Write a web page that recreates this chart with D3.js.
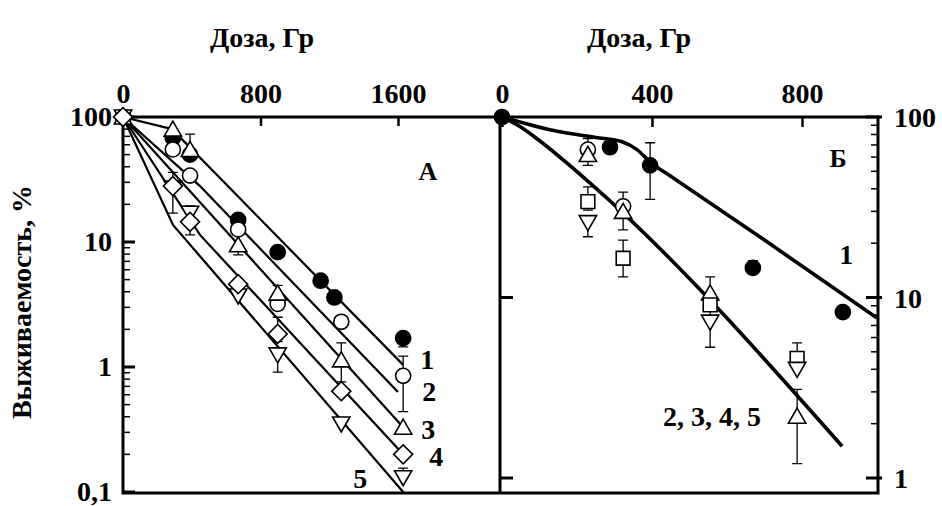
<!DOCTYPE html>
<html>
<head>
<meta charset="utf-8">
<script src="https://cdn.jsdelivr.net/npm/d3@7"></script>
<style>
  body { margin: 0; background: #fff; }
  text { font-family: "Liberation Serif", "DejaVu Serif", serif; font-weight: bold; fill: #000; }
</style>
</head>
<body>
<svg id="chart" width="942" height="506"></svg>
<script>
// ---- panel A data (dose, survival %) ----
const a1 = [[0, 100], [290, 68], [390, 50], [670, 15], [900, 8.3], [1150, 4.9], [1230, 3.6], [1630, 1.7]];
const a2 = [[0, 100], [290, 55], [390, 34], [670, 12.6], [900, 3.2], [1270, 2.3], [1630, 0.85]];
const a3 = [[0, 100], [290, 80], [390, 55], [670, 9.5], [900, 3.9], [1270, 1.14], [1630, 0.33]];
const a4 = [[0, 100], [290, 28], [390, 14.5], [670, 4.6], [900, 1.84], [1270, 0.64], [1630, 0.2]];
const a5 = [[0, 100], [290, 27], [390, 17], [670, 3.7], [900, 1.25], [1270, 0.35], [1630, 0.13]];
// fitted lines
const lineA1 = [[0, 100], [285, 80], [1630, 1.04]];
const lineA2 = [[0, 100], [448, 28], [1600, 0.63]];
const lineA3 = [[0, 100], [1630, 0.33]];
const lineA4 = [[0, 100], [448, 11.4], [1630, 0.2]];
const lineA5 = [[0, 100], [291, 13.7], [1630, 0.1]];
// error bars: dose, low, high
const errA = [[390, 50, 73], [290, 17, 36], [390, 11.4, 19.4], [670, 7.9, 9.5],
  [900, 2.86, 4.5], [900, 1.6, 2.5], [900, 0.91, 1.25], [1270, 0.76, 1.56],
  [1630, 0.44, 1.22], [1630, 0.13, 0.155], [1630, 1.45, 1.7]];
const ticksA = [0, 800, 1600];
const yTicksA = [100, 10, 1, 0.1];
const yLabelsA = ["100", "10", "1", "0,1"];

// ---- panel B data ----
const b1 = [[0, 100], [288, 68], [395, 54], [669, 14.6], [909, 8.3]];
const b2 = [[229, 66], [323, 32]];
const b3 = [[229, 62], [323, 30], [555, 10.6], [787, 2.2]];
const b4 = [[229, 34], [323, 16.5], [555, 9.1], [787, 4.6]];
const b5 = [[229, 26], [555, 7.3], [787, 4.0]];
const lineB1 = [[0, 100], [150, 83], [250, 77], [320, 73], [360, 66], [395, 56.3], [450, 47], [700, 20.8], [1000, 7.7]];
const lineB2 = [[0, 100], [50, 88], [96, 75], [235, 43], [907, 1.5]];
const errB = [[288, 64, 68], [395, 35, 72], [669, 13.5, 16], [229, 54, 76], [229, 30.5, 41],
  [229, 21.7, 26], [323, 23.7, 38.4], [323, 13, 20.8], [555, 5.3, 13], [787, 4.0, 5.6], [787, 1.2, 3.1]];
const ticksB = [0, 400, 800];
const yTicksB = [100, 10, 1];

const svg = d3.select("#chart");

// scales
const xA = d3.scaleLinear().domain([0, 1600]).range([123, 398]);
const yA = d3.scaleLog().domain([0.1, 100]).range([492, 117]);
const xB = d3.scaleLinear().domain([0, 800]).range([502, 802]);
const yB = d3.scaleLog().domain([1, 100]).range([478, 117]);

const pLeft = 123, pMid = 500, pRight = 878, pTop = 117, pBottom = 493;

// frame
svg.append("path")
  .attr("d", `M${pLeft},${pTop}H${pRight}V${pBottom}H${pLeft}Z M${pMid},${pTop}V${pBottom}`)
  .attr("fill", "none").attr("stroke", "#000").attr("stroke-width", 3);

// top axes
const topAxisA = d3.axisTop(xA).tickValues(ticksA).tickSize(-9).tickPadding(14).tickFormat(d3.format("d"));
const topAxisB = d3.axisTop(xB).tickValues(ticksB).tickSize(-10).tickPadding(14).tickFormat(d3.format("d"));
[topAxisA, topAxisB].forEach(ax => {
  const g = svg.append("g").attr("transform", `translate(0,${pTop})`).call(ax);
  g.select(".domain").remove();
  g.selectAll("line").attr("stroke-width", 2.5);
  g.selectAll("text").style("font-size", "28px").style("font-family", "Liberation Serif").style("font-weight", "bold");
});

// minor log ticks
function logTicks(lo, hi) {
  const out = [];
  for (let e = Math.round(Math.log10(lo)); e < Math.round(Math.log10(hi)); e++) {
    for (let m = 1; m < 10; m++) out.push({ v: m * Math.pow(10, e), major: m === 1 });
  }
  out.push({ v: hi, major: true });
  return out;
}

// left axis A
svg.append("g").selectAll("line").data(logTicks(0.1, 100)).join("line")
  .attr("x1", pLeft).attr("x2", d => pLeft + (d.major ? 12 : 7))
  .attr("y1", d => yA(d.v)).attr("y2", d => yA(d.v))
  .attr("stroke", "#000").attr("stroke-width", d => d.major ? 3 : 1.5);
svg.append("g").selectAll("text").data(yTicksA).join("text")
  .attr("x", 112).attr("y", d => yA(d) + 9)
  .attr("text-anchor", "end").style("font-size", "28px")
  .text((d, i) => yLabelsA[i]);

// right axis B
svg.append("g").selectAll("line").data(logTicks(1, 100)).join("line")
  .attr("x1", d => pRight + (d.major ? 4 : 0)).attr("x2", d => pRight - (d.major ? 12 : 7))
  .attr("y1", d => yB(d.v)).attr("y2", d => yB(d.v))
  .attr("stroke", "#000").attr("stroke-width", d => d.major ? 3 : 1.5);
svg.append("g").selectAll("text").data(yTicksB).join("text")
  .attr("x", 894).attr("y", d => yB(d) + 10)
  .style("font-size", "28px").text(d => d);
// left side major ticks of B
svg.append("g").selectAll("line").data([10, 1]).join("line")
  .attr("x1", pMid).attr("x2", pMid + 13)
  .attr("y1", d => yB(d)).attr("y2", d => yB(d))
  .attr("stroke", "#000").attr("stroke-width", 3);

// titles
svg.append("text").attr("x", 262).attr("y", 47).attr("text-anchor", "middle").style("font-size", "28px").text("Доза, Гр");
svg.append("text").attr("x", 639).attr("y", 47).attr("text-anchor", "middle").style("font-size", "28px").text("Доза, Гр");
svg.append("text").attr("transform", "translate(31,302) rotate(-90)").attr("text-anchor", "middle")
  .style("font-size", "28px").text("Выживаемость, %");

// panel letters
svg.append("text").attr("x", 428).attr("y", 180).attr("text-anchor", "middle").style("font-size", "26px").text("А");
svg.append("text").attr("x", 838).attr("y", 167).attr("text-anchor", "middle").style("font-size", "26px").text("Б");

// line labels
const labA = [["1", 1630, 1.04, 24, 4], ["2", 1630, 0.62, 26, 8], ["3", 1630, 0.33, 25, 12], ["4", 1630, 0.2, 33, 12], ["5", 1380, 0.1, 0, -4]];
svg.append("g").selectAll("text").data(labA).join("text")
  .attr("x", d => xA(d[1]) + d[3]).attr("y", d => yA(d[2]) + d[4])
  .attr("text-anchor", "middle").style("font-size", "28px").text(d => d[0]);
svg.append("text").attr("x", xB(910) + 3).attr("y", yB(17.4) + 10).attr("text-anchor", "middle").style("font-size", "28px").text("1");
svg.append("text").attr("x", xB(560)).attr("y", yB(2.2) + 10).attr("text-anchor", "middle").style("font-size", "28px").text("2, 3, 4, 5");

// lines
const lineGenA = d3.line().x(d => xA(d[0])).y(d => yA(d[1]));
svg.append("g").selectAll("path").data([lineA1, lineA2, lineA3, lineA4, lineA5]).join("path")
  .attr("d", lineGenA).attr("fill", "none").attr("stroke", "#000").attr("stroke-width", 2.2);
const lineGenB = d3.line().x(d => xB(d[0])).y(d => yB(d[1])).curve(d3.curveMonotoneX);
svg.append("g").selectAll("path").data([lineB1, lineB2]).join("path")
  .attr("d", lineGenB).attr("fill", "none").attr("stroke", "#000").attr("stroke-width", 3.6);

// error bars
function errBars(data, x, y) {
  const g = svg.append("g").attr("stroke", "#000").attr("stroke-width", 1.3);
  g.selectAll("path").data(data).join("path")
    .attr("d", d => {
      const cx = x(d[0]), y1 = y(d[1]), y2 = y(d[2]);
      return `M${cx},${y1}V${y2}M${cx - 5},${y1}h10M${cx - 5},${y2}h10`;
    });
}
errBars(errA, xA, yA);
errBars(errB, xB, yB);

// markers
const shapes = {
  circle: d3.symbol(d3.symbolCircle, 180)(),
  up: d3.symbol(d3.symbolTriangle, 130)(),
  down: d3.symbol(d3.symbolTriangle, 130)(),
  diamond: d3.symbol(d3.symbolSquare, 180)(),
  square: d3.symbol(d3.symbolSquare, 190)()
};
const rot = { down: 180, diamond: 45 };
function markers(data, x, y, shape, filled) {
  svg.append("g").selectAll("path").data(data).join("path")
    .attr("d", shapes[shape])
    .attr("transform", d => `translate(${x(d[0])},${y(d[1]) + (shape === "up" ? 2 : shape === "down" ? -2 : 0)}) rotate(${rot[shape] || 0})`)
    .attr("fill", filled ? "#000" : "#fff")
    .attr("stroke", "#000").attr("stroke-width", 1.6);
}
markers(a1, xA, yA, "circle", true);
markers(a2, xA, yA, "circle", false);
markers(a3, xA, yA, "up", false);
markers(a5, xA, yA, "down", false);
markers(a4, xA, yA, "diamond", false);

markers(b2, xB, yB, "circle", false);
markers(b3, xB, yB, "up", false);
markers(b4, xB, yB, "square", false);
markers(b5, xB, yB, "down", false);
markers(b1, xB, yB, "circle", true);
</script>
</body>
</html>
